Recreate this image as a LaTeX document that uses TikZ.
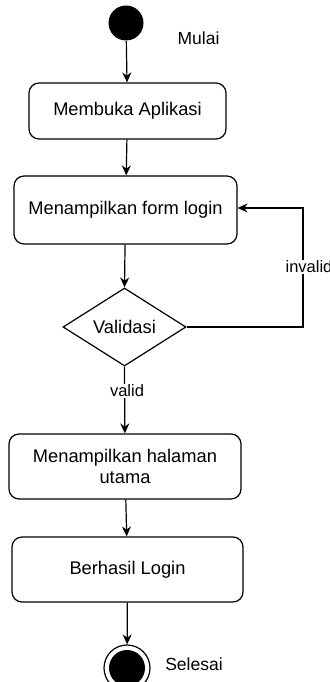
\documentclass[tikz,border=0pt]{standalone}
\usepackage{fontspec}
\setmainfont{Liberation Sans}
\usetikzlibrary{arrows.meta,shapes.geometric}
\begin{document}
\begin{tikzpicture}[x=1pt,y=-1pt,
  line width=1.2pt,
  font=\fontsize{18.3}{21}\selectfont,
  act/.style={draw, rounded corners=10pt, minimum width=#1, inner sep=0pt, align=center},
  flow/.style={-{Stealth[length=10pt,width=9pt]}},
  lbl/.style={fill=white, inner sep=1pt, font=\fontsize{16.5}{19}\selectfont},
]
\useasboundingbox (0,0) rectangle (329,682);
\clip (0,0) rectangle (329,682);

% initial and final states
\node (start) [circle, fill=black, minimum size=35pt, inner sep=0pt] at (126,23) {};
\node (mulai) [font=\fontsize{17.5}{20}\selectfont] at (198.5,38) {Mulai};

% activities
\node (buka) [act=197pt, minimum height=56pt] at (127.5,111) {Membuka Aplikasi};
\node (form) [act=223pt, minimum height=68pt] at (125.5,210) {Menampilkan form login};
\node (valid) [draw, diamond, aspect=1.58, minimum width=123pt, minimum height=78pt, inner sep=0pt] at (124.5,327) {};
\node at (valid.center) {Validasi};
\node (utama) [act=232pt, minimum height=65pt] at (125,466.5) {Menampilkan halaman\\utama};
\node (berhasil) [act=231pt, minimum height=65pt] at (127.5,569.5) {Berhasil Login};

\node (endout) [circle, draw, minimum size=46pt, inner sep=0pt] at (127,668) {};
\node (endin) [circle, fill=black, minimum size=36pt, inner sep=0pt] at (127,668) {};
\node (selesai) [font=\fontsize{17.5}{20}\selectfont] at (194,664) {Selesai};

% transitions
\draw[flow] (start) -- (buka);
\draw[flow] (buka) -- (form);
\draw[flow] (form) -- (valid.north);
\coordinate (loopA) at (303,327);
\coordinate (loopB) at (303,208);
\draw[flow] (valid.east) -- (loopA) -- (loopB) -- (form.east |- loopB);
\node (inv) [lbl, anchor=west] at (284,267) {invalid};
\draw[flow] (valid.south) -- (utama);
\node (vl) [lbl] at (127,391) {valid};
\draw[flow] (utama) -- (berhasil);
\draw[flow] (berhasil) -- (endout);
\end{tikzpicture}
\end{document}
